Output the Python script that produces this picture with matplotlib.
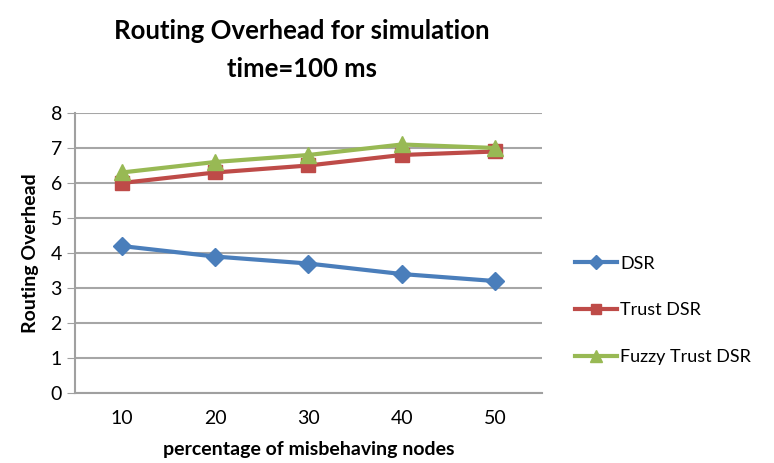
import matplotlib.pyplot as plt

plt.rcParams['font.family'] = ['Lato', 'DejaVu Sans']

categories = ['10', '20', '30', '40', '50']
dsr = [4.2, 3.9, 3.7, 3.4, 3.2]
trust_dsr = [6.0, 6.3, 6.5, 6.8, 6.9]
fuzzy_trust_dsr = [6.3, 6.6, 6.8, 7.1, 7.0]

fig = plt.figure(figsize=(7.74, 4.63), dpi=100)
ax = fig.add_axes([0.097, 0.151, 0.603, 0.605])

x = range(len(categories))
ax.plot(x, dsr, color='#4a7ebb', lw=3, marker='D', ms=9, label='DSR')
ax.plot(x, trust_dsr, color='#be4b48', lw=3, marker='s', ms=10, label='Trust DSR')
ax.plot(x, fuzzy_trust_dsr, color='#98b954', lw=3, marker='^', ms=11, label='Fuzzy Trust DSR')

ax.set_xlim(-0.5, 4.5)
ax.set_ylim(0, 8)
ax.set_xticks(list(x))
ax.set_xticklabels(categories)
ax.set_yticks(range(9))
ax.tick_params(axis='both', labelsize=14, colors='black')
ax.tick_params(axis='y', length=6, color='#a0a0a0')
ax.tick_params(axis='x', length=0, pad=12)
ax.grid(axis='y', color='#a6a6a6', lw=1.5)
ax.set_axisbelow(True)
for s in ['top', 'right']:
    ax.spines[s].set_visible(False)
ax.spines['left'].set_color('#a0a0a0')
ax.spines['bottom'].set_color('#a0a0a0')
ax.spines['left'].set_linewidth(1.5)
ax.spines['bottom'].set_linewidth(1.5)

ax.set_xlabel('percentage of misbehaving nodes', fontsize=14, fontweight='bold', labelpad=10)
ax.set_ylabel('Routing Overhead', fontsize=14, fontweight='bold', labelpad=8)
fig.text(0.39, 0.96, 'Routing Overhead for simulation\ntime=100 ms', ha='center', va='top',
         fontsize=18.5, fontweight='bold', linespacing=1.7)

fig.legend(loc='center left', bbox_to_anchor=(0.743, 0.33), frameon=False,
           fontsize=13, handlelength=2.3, labelspacing=1.7, handletextpad=0.2,
           markerscale=0.75, borderaxespad=0, borderpad=0)

fig.savefig('out.png', dpi=100)
